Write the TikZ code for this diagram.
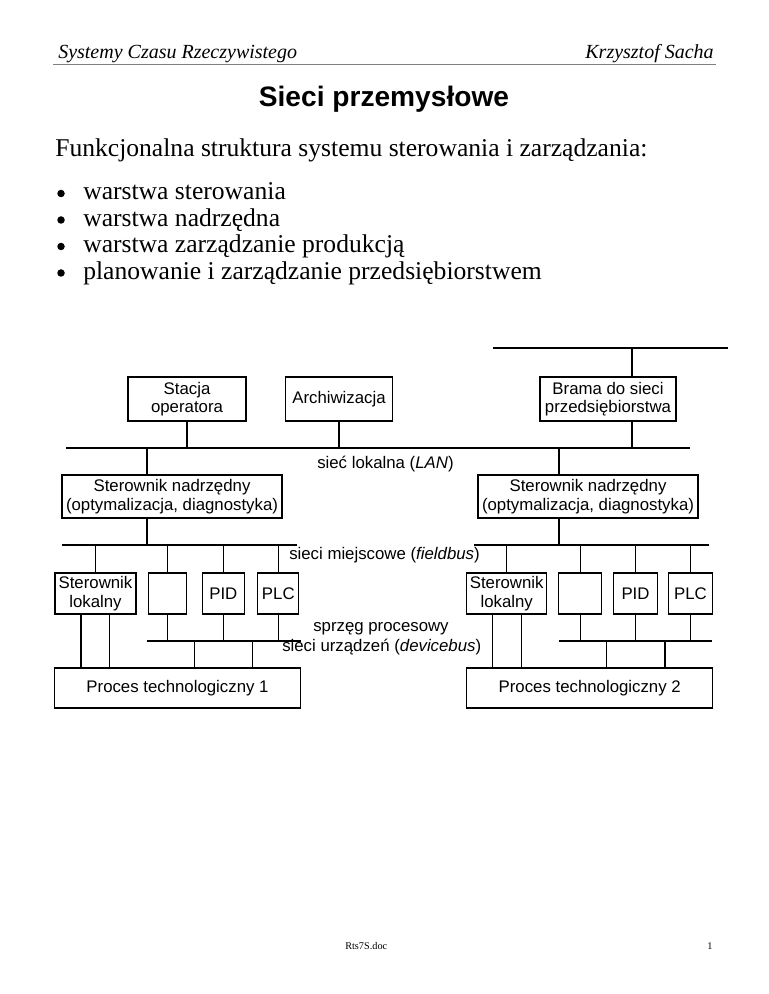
\documentclass[tikz,border=0pt]{standalone}
\usepackage{fontspec}
\setmainfont{Liberation Serif}
\newfontfamily\arial{Liberation Sans}
\begin{document}
\begin{tikzpicture}[x=0.75pt,y=-0.75pt,
  ln/.style={line width=0.8pt},
  box/.style={draw,line width=0.8pt,inner sep=0pt,align=center,font=\arial\fontsize{12.6}{14}\selectfont},
  sz/.style 2 args={minimum width=#1*0.75pt,minimum height=#2*0.75pt},
  lbl/.style={inner sep=0pt,anchor=west,font=\arial\fontsize{12.6}{14}\selectfont},
  body/.style={inner sep=0pt,anchor=base west,font=\fontsize{19.2}{22}\selectfont},
  bul/.style={circle,fill,inner sep=0pt,minimum size=7.5*0.75pt}]
\useasboundingbox[fill=white] (0,0) rectangle (768,994);
% header
\node[inner sep=0pt,anchor=base west,font=\fontsize{15}{18}\selectfont\itshape] (hl) at (58,59) {Systemy Czasu Rzeczywistego};
\node[inner sep=0pt,anchor=base east,font=\fontsize{15}{18}\selectfont\itshape] (hr) at (714,59) {Krzysztof Sacha};
\coordinate (hla) at (53,64.5);
\coordinate (hlb) at (716,64.5);
\draw[line width=1.1pt,gray] (hla) -- (hlb);
% title and text
\node[inner sep=0pt,anchor=base,font=\arial\bfseries\fontsize{21.1}{24}\selectfont] (title) at (384,106.5) {Sieci przemysłowe};
\node[body] (intro) at (55,157) {Funkcjonalna struktura systemu sterowania i zarządzania:};
\node[bul] (b1) at (61,193.5) {};
\node[bul] (b2) at (61,220) {};
\node[bul] (b3) at (61,246.5) {};
\node[bul] (b4) at (61,273) {};
\node[body] (t1) at (83,200) {warstwa sterowania};
\node[body] (t2) at (83,226.5) {warstwa nadrzędna};
\node[body] (t3) at (83,253) {warstwa zarządzanie produkcją};
\node[body] (t4) at (83,279.5) {planowanie i zarządzanie przedsiębiorstwem};
% buses
\coordinate (topA) at (493,348); \coordinate (topB) at (728,348);
\coordinate (lanA) at (66,448);  \coordinate (lanB) at (690,448);
\coordinate (fbLA) at (62,545);  \coordinate (fbLB) at (297,545);
\coordinate (fbRA) at (474,545); \coordinate (fbRB) at (709,545);
\coordinate (dbLA) at (147,641); \coordinate (dbLB) at (301,641);
\coordinate (dbRA) at (559,641); \coordinate (dbRB) at (712,641);
\draw[ln] (topA) -- (topB);
\draw[ln] (lanA) -- (lanB);
\draw[ln] (fbLA) -- (fbLB);
\draw[ln] (fbRA) -- (fbRB);
\draw[ln] (dbLA) -- (dbLB);
\draw[ln] (dbRA) -- (dbRB);
% boxes
\node[box,sz={118}{44}] (stacja) at (187,399) {Stacja\\operatora};
\node[box,sz={107}{44}] (arch) at (339,399) {Archiwizacja};
\node[box,sz={136}{44}] (brama) at (608,399) {Brama do sieci\\przedsiębiorstwa};
\node[box,sz={220}{43}] (sn1) at (172,496.5) {Sterownik nadrzędny\\(optymalizacja, diagnostyka)};
\node[box,sz={220}{43}] (sn2) at (588,496.5) {Sterownik nadrzędny\\(optymalizacja, diagnostyka)};
\node[box,sz={81}{41}] (sl1) at (95.5,593.5) {Sterownik\\lokalny};
\node[box,sz={38.4}{41}] (e1) at (167.5,593.5) {};
\node[box,sz={42}{41}] (pid1) at (223.3,593.5) {PID};
\node[box,sz={41.3}{41}] (plc1) at (278.3,593.5) {PLC};
\node[box,sz={80}{41}] (sl2) at (506.7,593.5) {Sterownik\\lokalny};
\node[box,sz={42.7}{41}] (e2) at (580.3,593.5) {};
\node[box,sz={44.4}{41}] (pid2) at (635.5,593.5) {PID};
\node[box,sz={44.4}{41}] (plc2) at (690.5,593.5) {PLC};
\node[box,sz={246}{40}] (proc1) at (177.5,688) {Proces technologiczny 1};
\node[box,sz={246}{40}] (proc2) at (589.7,688) {Proces technologiczny 2};
% labels
\node[lbl] (lanlbl) at (317,464) {sieć lokalna (\textit{LAN})};
\node[lbl] (fblbl) at (289,555) {sieci miejscowe (\textit{fieldbus})};
\node[lbl] (splbl) at (313,629) {sprzęg procesowy};
\node[lbl] (dblbl) at (282,647) {sieci urządzeń (\textit{devicebus})};
% connectors upper level
\draw[ln] (stacja) -- (stacja |- lanA);
\draw[ln] (arch) -- (arch |- lanA);
\draw[ln] (brama.north -| 632,0) -- (topA -| 632,0);
\draw[ln] (brama.south -| 632,0) -- (lanA -| 632,0);
\draw[ln] (sn1.north -| 147,0) -- (lanA -| 147,0);
\draw[ln] (sn2.north -| 559,0) -- (lanA -| 559,0);
\draw[ln] (sn1.south -| 147,0) -- (fbLA -| 147,0);
\draw[ln] (sn2.south -| 559,0) -- (fbRA -| 559,0);
% fieldbus drops
\draw[ln] (sl1) -- (sl1 |- fbLA);
\draw[ln] (e1) -- (e1 |- fbLA);
\draw[ln] (pid1) -- (pid1 |- fbLA);
\draw[ln] (plc1) -- (plc1 |- fbLA);
\draw[ln] (sl2) -- (sl2 |- fbRA);
\draw[ln] (e2) -- (e2 |- fbRA);
\draw[ln] (pid2) -- (pid2 |- fbRA);
\draw[ln] (plc2) -- (plc2 |- fbRA);
% devicebus drops
\draw[ln] (e1) -- (e1 |- dbLA);
\draw[ln] (pid1) -- (pid1 |- dbLA);
\draw[ln] (plc1) -- (plc1 |- dbLA);
\draw[ln] (e2) -- (e2 |- dbRA);
\draw[ln] (pid2) -- (pid2 |- dbRA);
\draw[ln] (plc2) -- (plc2 |- dbRA);
% to processes
\draw[ln] (sl1.south -| 81,0) -- (proc1.north -| 81,0);
\draw[ln] (sl1.south -| 109.3,0) -- (proc1.north -| 109.3,0);
\draw[ln] (dbLA -| 194.3,0) -- (proc1.north -| 194.3,0);
\draw[ln] (dbLA -| 252.7,0) -- (proc1.north -| 252.7,0);
\draw[ln] (sl2.south -| 492.3,0) -- (proc2.north -| 492.3,0);
\draw[ln] (sl2.south -| 521.7,0) -- (proc2.north -| 521.7,0);
\draw[ln] (dbRA -| 606.7,0) -- (proc2.north -| 606.7,0);
\draw[ln] (dbRA -| 665,0) -- (proc2.north -| 665,0);
% footer
\node[inner sep=0pt,anchor=base west,font=\fontsize{7.7}{9}\selectfont] (foot) at (345,949) {Rts7S.doc};
\node[inner sep=0pt,anchor=base,font=\fontsize{7.7}{9}\selectfont] (page) at (710,949) {1};
\end{tikzpicture}
\end{document}
